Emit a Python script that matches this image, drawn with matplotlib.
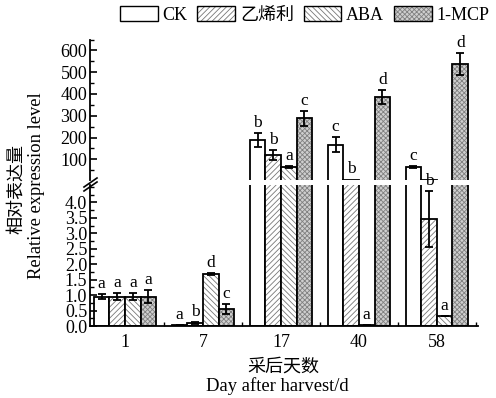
import numpy as np
import matplotlib
matplotlib.use("Agg")
import matplotlib.pyplot as plt
from matplotlib.patches import Patch
from matplotlib.ticker import MultipleLocator, FixedLocator

plt.rcParams['font.family'] = ['Liberation Serif', 'Noto Sans CJK SC']
plt.rcParams['hatch.linewidth'] = 0.6

days = ['1', '7', '17', '40', '58']
series = ['CK', '乙烯利', 'ABA', '1-MCP']

# mean values and error
ck = [0.95, 0.03, 190, 168, 65]
ck_err = [0.07, 0.01, 32, 33, 3]
eth = [0.95, 0.10, 120, 7, 3.45]
eth_err = [0.12, 0.03, 24, 0, 0.9]
aba = [0.95, 1.67, 65, 0.02, 0.33]
aba_err = [0.12, 0.03, 4, 0, 0]
mcp = [0.95, 0.54, 288, 385, 538]
mcp_err = [0.2, 0.16, 34, 33, 50]

letters = [['a', 'a', 'b', 'c', 'c'],
           ['a', 'b', 'b', 'b', 'b'],
           ['a', 'd', 'a', 'a', 'a'],
           ['a', 'c', 'c', 'd', 'd']]

vals = [ck, eth, aba, mcp]
errs = [ck_err, eth_err, aba_err, mcp_err]
hatches = ['', '//////', '\\\\\\\\\\\\', 'xxxxxxx']
fills = ['white', 'white', 'white', '#cfcfcf']
hcols = ['white', '#777777', '#777777', '#808080']

fig = plt.figure(figsize=(4.96, 3.98), dpi=100)
ax_top = fig.add_axes([0.1815, 0.5477, 0.782, 0.353])
ax_bot = fig.add_axes([0.1815, 0.1809, 0.782, 0.3543])

x = np.arange(len(days))
w = 0.2
low_max = 4.56
top_min = 5

for ax, base in ((ax_top, -200), (ax_bot, 0)):
    for j in range(4):
        pos = x + (j - 1.5) * w
        v = np.array(vals[j], dtype=float)
        e = np.array(errs[j], dtype=float)
        ax.bar(pos, v - base, w, bottom=base, color=fills[j], hatch=hatches[j],
               edgecolor=hcols[j], linewidth=0)
        ax.bar(pos, v - base, w, bottom=base, fill=False, edgecolor='black',
               linewidth=1.3)
        # only draw error bars that belong to this panel
        if ax is ax_top:
            keep = v + e > top_min + 2
        else:
            keep = v - e < low_max
        if keep.any():
            ax.errorbar(pos[keep], v[keep], yerr=e[keep], fmt='none',
                        ecolor='black', elinewidth=1.3, capsize=3, capthick=1.3)
    ax.set_xlim(-0.449, 4.526)
    ax.spines['top'].set_visible(False)
    ax.spines['right'].set_visible(False)
    ax.spines['left'].set_linewidth(1.3)
    ax.spines['bottom'].set_linewidth(1.3)
    ax.tick_params(axis='y', which='major', direction='in', length=5, width=1.2,
                   labelsize=13, pad=2)
    ax.tick_params(axis='y', which='minor', direction='in', length=3, width=1.0)

ax_top.set_ylim(top_min, 650)
ax_top.spines['bottom'].set_visible(False)
ax_top.set_yticks([100, 200, 300, 400, 500, 600])
ax_top.yaxis.set_minor_locator(MultipleLocator(50))
ax_top.set_xticks([])

ax_bot.set_ylim(0, low_max)
ax_bot.set_yticks(np.arange(0, 4.01, 0.5))
ax_bot.set_yticklabels(['%.1f' % v for v in np.arange(0, 4.01, 0.5)])
ax_bot.yaxis.set_minor_locator(MultipleLocator(0.25))
ax_bot.set_xticks(x)
ax_bot.set_xticklabels(days)
ax_bot.xaxis.set_minor_locator(FixedLocator(x + 0.5))
ax_bot.tick_params(axis='x', which='major', length=0, labelsize=13, pad=6)
ax_bot.tick_params(axis='x', which='minor', direction='in', length=3, width=1.0)

# significance letters
for j in range(4):
    for i in range(len(days)):
        top = vals[j][i] + errs[j][i]
        ax = ax_bot if top < low_max else ax_top
        ax.annotate(letters[j][i], (x[i] + (j - 1.5) * w, top),
                    xytext=(0, 1.5), textcoords='offset points',
                    ha='center', va='bottom', fontsize=12.5,
                    annotation_clip=False)

# axis break marks
for dy in (0, 4):
    fig.add_artist(plt.Line2D([84 / 496, 97 / 496],
                              [1 - (187 + dy) / 398, 1 - (178 + dy) / 398],
                              color='black', lw=1.2))

# legend
handles = []
for j in range(4):
    p1 = Patch(facecolor=fills[j], hatch=hatches[j], edgecolor=hcols[j], linewidth=0)
    p2 = Patch(fill=False, edgecolor='black', linewidth=1.0)
    handles.append((p1, p2))
fig.legend(handles, series, loc='upper right', bbox_to_anchor=(1.0, 1.0),
           ncol=4, frameon=False, fontsize=13, handlelength=2.1,
           handleheight=0.85, handletextpad=0.27, columnspacing=0.53,
           borderaxespad=0.1, borderpad=0.25)

# axis labels
fig.text(17 / 496, 1 - 189 / 398, '相对表达量', rotation=90, ha='center',
         va='center', fontsize=13)
fig.text(37 / 496, 1 - 186 / 398, 'Relative expression level', rotation=90,
         ha='center', va='center', fontsize=13.3)
fig.text(283 / 496, 1 - 367 / 398, '采后天数', ha='center', va='center', fontsize=13)
fig.text(277 / 496, 1 - 386 / 398, 'Day after harvest/d', ha='center',
         va='center', fontsize=13.4)

fig.savefig('out.png', dpi=100)
